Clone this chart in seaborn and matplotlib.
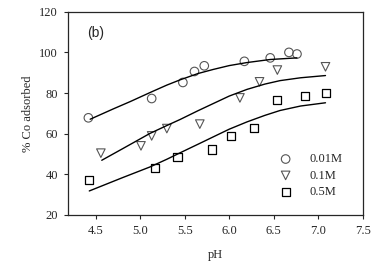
import numpy as np
import pandas as pd
import seaborn as sns
import matplotlib.pyplot as plt

sns.set_style('ticks')
plt.rcParams['font.family'] = ['Liberation Serif', 'DejaVu Serif']

# measured points
ph_001 = [4.42, 5.13, 5.48, 5.61, 5.72, 6.17, 6.46, 6.67, 6.76]
co_001 = [67.8, 77.3, 85.2, 90.6, 93.4, 95.6, 97.3, 100.0, 99.2]
ph_01 = [4.56, 5.01, 5.13, 5.30, 5.67, 6.12, 6.34, 6.54, 7.08]
co_01 = [50.4, 54.0, 58.9, 62.5, 64.7, 77.6, 85.5, 91.3, 92.9]
ph_05 = [4.43, 5.17, 5.42, 5.81, 6.02, 6.28, 6.54, 6.85, 7.09]
co_05 = [37.4, 42.9, 48.3, 52.2, 58.8, 62.9, 76.5, 78.6, 79.8]

# fitted curves
fit_x_001 = [4.44, 4.70, 4.89, 5.13, 5.30, 5.45, 5.65, 5.82, 6.00, 6.20, 6.46, 6.76]
fit_y_001 = [67.1, 72.2, 75.8, 80.6, 83.9, 86.5, 89.6, 91.6, 93.5, 95.0, 96.5, 97.3]
fit_x_01 = [4.57, 4.80, 5.11, 5.30, 5.45, 5.65, 5.82, 6.00, 6.20, 6.40, 6.57, 6.80, 7.08]
fit_y_01 = [46.9, 52.5, 60.1, 64.0, 67.0, 71.3, 74.8, 78.5, 81.8, 84.4, 86.1, 87.5, 88.6]
fit_x_05 = [4.43, 4.80, 5.11, 5.30, 5.45, 5.65, 5.82, 6.00, 6.20, 6.40, 6.57, 6.80, 7.08]
fit_y_05 = [31.8, 38.3, 43.6, 47.4, 50.6, 54.8, 58.4, 62.2, 65.8, 69.0, 71.4, 73.6, 75.2]

labels = ['0.01M', '0.1M', '0.5M']

fig = plt.figure(figsize=(3.73, 2.67), dpi=100)
ax = fig.add_axes([0.182, 0.195, 0.791, 0.761])

for fx, fy in [(fit_x_001, fit_y_001), (fit_x_01, fit_y_01), (fit_x_05, fit_y_05)]:
    sns.lineplot(x=fx, y=fy, ax=ax, color='black', lw=1.0, sort=False)

sns.scatterplot(x=ph_001, y=co_001, ax=ax, marker='o', s=38, facecolor='none',
                edgecolor='#555555', linewidth=0.8, label=labels[0])
sns.scatterplot(x=ph_01, y=co_01, ax=ax, marker='v', s=38, facecolor='none',
                edgecolor='#555555', linewidth=0.8, label=labels[1])
sns.scatterplot(x=ph_05, y=co_05, ax=ax, marker='s', s=34, facecolor='none',
                edgecolor='black', linewidth=0.9, label=labels[2])

ax.set_xlim(4.19, 7.5)
ax.set_ylim(20, 120)
ax.set_xticks([4.5, 5.0, 5.5, 6.0, 6.5, 7.0, 7.5])
ax.set_xticklabels(['4.5', '5.0', '5.5', '6.0', '6.5', '7.0', '7.5'])
ax.set_yticks([20, 40, 60, 80, 100, 120])
ax.tick_params(labelsize=9, length=3, width=0.8, direction='out', pad=4)
for sp in ax.spines.values():
    sp.set_linewidth(0.9)
    sp.set_visible(True)

ax.set_xlabel('pH', fontsize=9, labelpad=9)
ax.set_ylabel('% Co adsorbed', fontsize=9, labelpad=4)
ax.text(0.065, 0.875, '(b)', transform=ax.transAxes, fontsize=10,
        family=['Liberation Sans', 'DejaVu Sans'])

ax.legend(loc='lower right', bbox_to_anchor=(0.96, 0.04), frameon=False,
          fontsize=9, handletextpad=1.3, labelspacing=0.35, borderpad=0.2,
          handlelength=1.2)

fig.savefig('out.png', dpi=100)
